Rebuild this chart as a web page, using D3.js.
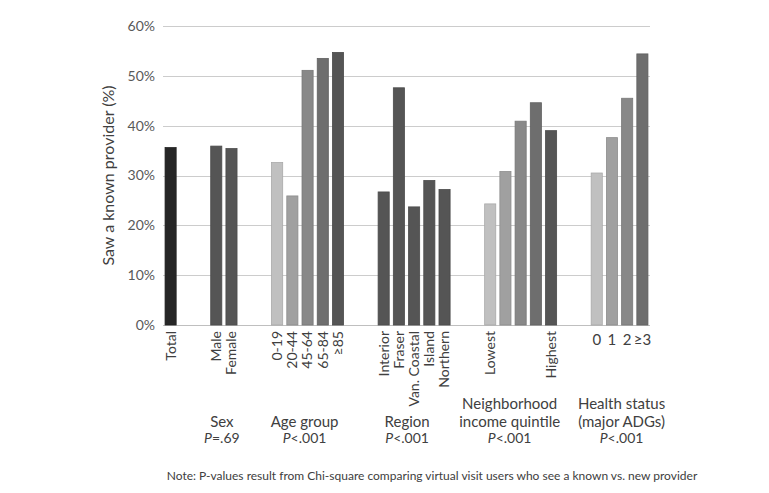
<!DOCTYPE html>
<html>
<head>
<meta charset="utf-8">
<script src="https://cdn.jsdelivr.net/npm/d3@7"></script>
<style>
  body { margin: 0; background: #fff; }
  text { font-family: Lato, "Open Sans", sans-serif; }
</style>
</head>
<body>
<div id="chart"></div>
<script>
// Slots along the x axis (blank keys are the gaps between groups)
const categories = ["Total", "_a", "_b", "Male", "Female", "_c", "_d",
    "0-19", "20-44", "45-64", "65-84", "≥85", "_e", "_f",
    "Interior", "Fraser", "Van. Coastal", "Island", "Northern", "_g", "_h",
    "Q1", "Q2", "Q3", "Q4", "Q5", "_i", "_j",
    "0", "1", "2", "≥3"];
const tickLabels = {
    "Total": "Total", "Male": "Male", "Female": "Female",
    "0-19": "0-19", "20-44": "20-44", "45-64": "45-64", "65-84": "65-84", "≥85": "≥85",
    "Interior": "Interior", "Fraser": "Fraser", "Van. Coastal": "Van. Coastal",
    "Island": "Island", "Northern": "Northern",
    "Q1": "Lowest", "Q5": "Highest"
};
const healthLabels = ["0", "1", "2", "≥3"];

const values = {
    "Total": 35.6,
    "Male": 35.9, "Female": 35.4,
    "0-19": 32.6, "20-44": 25.9, "45-64": 51.1, "65-84": 53.5, "≥85": 54.7,
    "Interior": 26.7, "Fraser": 47.6, "Van. Coastal": 23.7, "Island": 29.0, "Northern": 27.2,
    "Q1": 24.3, "Q2": 30.8, "Q3": 40.9, "Q4": 44.6, "Q5": 39.0,
    "0": 30.5, "1": 37.6, "2": 45.5, "≥3": 54.4
};

const fills = {
    "Total": "#262626",
    "Male": "#555555", "Female": "#555555",
    "0-19": "#c0c0c0", "20-44": "#a0a0a0", "45-64": "#888888", "65-84": "#6e6e6e", "≥85": "#555555",
    "Interior": "#555555", "Fraser": "#555555", "Van. Coastal": "#555555", "Island": "#555555", "Northern": "#555555",
    "Q1": "#c0c0c0", "Q2": "#a0a0a0", "Q3": "#888888", "Q4": "#6e6e6e", "Q5": "#555555",
    "0": "#c0c0c0", "1": "#a0a0a0", "2": "#888888", "≥3": "#6e6e6e"
};

const groups = [
    { first: "Male", last: "Female", lines: ["Sex"], p: "=.69" },
    { first: "0-19", last: "≥85", lines: ["Age group"], p: "<.001" },
    { first: "Interior", last: "Northern", lines: ["Region"], p: "<.001" },
    { first: "Q1", last: "Q5", lines: ["Neighborhood", "income quintile"], p: "<.001" },
    { first: "0", last: "≥3", lines: ["Health status", "(major ADGs)"], p: "<.001" }
];

const yTicks = [0, 10, 20, 30, 40, 50, 60];

const W = 769, H = 493;
const margin = { top: 26, right: 119, bottom: 168, left: 163 },
      width = W - margin.left - margin.right,
      height = H - margin.top - margin.bottom;

// hand-placed nudges of the group captions (px)
const captionNudge = [-2, -3, -7, -11, 2];

const svg = d3.select("#chart")
    .append("svg")
    .attr("width", W)
    .attr("height", H);

const g = svg.append("g")
    .attr("transform", `translate(${margin.left},${margin.top})`);

const x = d3.scaleBand()
    .domain(categories)
    .range([0, width])
    .paddingInner(0.27)
    .paddingOuter(0.135);

const y = d3.scaleLinear()
    .domain([0, 60])
    .range([height, 0]);

// Gridlines
g.append("g")
    .selectAll("line")
    .data(yTicks)
    .enter()
    .append("line")
    .attr("x1", 0)
    .attr("x2", width)
    .attr("y1", d => Math.round(y(d)) + 0.5)
    .attr("y2", d => Math.round(y(d)) + 0.5)
    .attr("stroke", d => d === 0 ? "#bfbfbf" : "#cccccc")
    .attr("stroke-width", 1);

// Y tick labels
g.append("g")
    .selectAll("text")
    .data(yTicks)
    .enter()
    .append("text")
    .attr("x", -8)
    .attr("y", d => y(d))
    .attr("dy", "0.35em")
    .attr("text-anchor", "end")
    .style("font-size", "14px")
    .attr("fill", "#595959")
    .text(d => d + "%");

// Y axis title
svg.append("text")
    .attr("text-anchor", "middle")
    .attr("transform", `translate(${114},${margin.top + height / 2}) rotate(-90)`)
    .style("font-size", "16px")
    .attr("fill", "#404040")
    .text("Saw a known provider (%)");

// Bars
const barData = categories.filter(c => values[c] !== undefined);
g.selectAll("rect.bar")
    .data(barData)
    .enter()
    .append("rect")
    .attr("class", "bar")
    .attr("x", d => x(d))
    .attr("y", d => y(values[d]))
    .attr("width", x.bandwidth())
    .attr("height", d => height - y(values[d]))
    .attr("fill", d => fills[d])
    .attr("stroke", d => d3.color(fills[d]).darker(0.35))
    .attr("stroke-width", 0.8);

// Rotated category labels
g.append("g")
    .selectAll("text")
    .data(categories.filter(c => tickLabels[c]))
    .enter()
    .append("text")
    .attr("text-anchor", "end")
    .attr("transform", d => `translate(${x(d) + x.bandwidth() / 2},${height + 6}) rotate(-90)`)
    .attr("dy", "0.35em")
    .style("font-size", "14px")
    .attr("fill", "#404040")
    .text(d => tickLabels[d]);

// Horizontal labels for health status
g.append("g")
    .selectAll("text")
    .data(healthLabels)
    .enter()
    .append("text")
    .attr("text-anchor", "middle")
    .attr("x", d => x(d) + x.bandwidth() / 2)
    .attr("y", height + 20)
    .style("font-size", "15px")
    .attr("fill", "#404040")
    .text(d => d);

// Group titles and P-values
groups.forEach((gr, k) => {
    const cx = (x(gr.first) + x(gr.last) + x.bandwidth()) / 2 + captionNudge[k];
    const n = gr.lines.length;
    const pY = height + 118;
    gr.lines.forEach((line, i) => {
        g.append("text")
            .attr("text-anchor", "middle")
            .attr("x", cx)
            .attr("y", pY - 16 - (n - 1 - i) * 18)
            .style("font-size", "15px")
            .attr("fill", "#404040")
            .text(line);
    });
    const pt = g.append("text")
        .attr("text-anchor", "middle")
        .attr("x", cx)
        .attr("y", pY)
        .style("font-size", "14px")
        .attr("fill", "#404040");
    pt.append("tspan").style("font-style", "italic").text("P");
    pt.append("tspan").text(gr.p);
});

// Note
svg.append("text")
    .attr("text-anchor", "middle")
    .attr("x", 432)
    .attr("y", 480)
    .style("font-size", "12px")
    .attr("fill", "#404040")
    .text("Note: P-values result from Chi-square comparing virtual visit users who see a known vs. new provider");
</script>
</body>
</html>
